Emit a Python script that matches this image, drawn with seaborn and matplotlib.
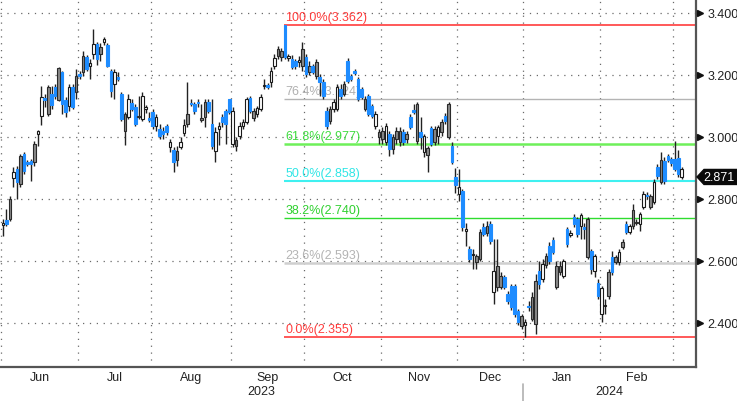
import numpy as np
import pandas as pd
import matplotlib
matplotlib.use("Agg")
import matplotlib.pyplot as plt
import seaborn as sns
from matplotlib.patches import Polygon

# ---------------- data ----------------
holidays = ["2023-12-25", "2023-12-26", "2024-01-01"]
dates = [d for d in pd.bdate_range("2023-06-01", "2024-03-05") if d.strftime("%Y-%m-%d") not in holidays]

opens = [2.715, 2.732, 2.800, 2.868, 2.897, 2.939, 2.945, 2.920, 2.922, 2.977,
         3.010, 3.068, 3.126, 3.161, 3.139, 3.161, 3.223, 3.210, 3.119, 3.100,
         3.161, 3.197, 3.203, 3.261, 3.258, 3.230, 3.268, 3.300, 3.290, 3.306,
         3.297, 3.213, 3.170, 3.194, 3.139, 3.074, 3.065, 3.110, 3.097, 3.068,
         3.058, 3.090, 3.060, 3.081, 3.035, 3.026, 3.020, 3.035, 2.968, 2.958,
         2.955, 2.968, 3.013, 3.074, 3.110, 3.106, 3.113, 3.060, 3.113, 3.113,
         3.042, 3.016, 3.026, 3.048, 3.084, 3.123, 3.084, 2.971, 3.035, 3.035,
         3.048, 3.126, 3.084, 3.074, 3.090, 3.165, 3.168, 3.177, 3.229, 3.284,
         3.277, 3.362, 3.254, 3.252, 3.245, 3.242, 3.284, 3.258, 3.229, 3.229,
         3.242, 3.194, 3.177, 3.084, 3.090, 3.090, 3.090, 3.155, 3.171, 3.245,
         3.197, 3.213, 3.187, 3.155, 3.123, 3.132, 3.100, 3.074, 3.000, 3.019,
         3.035, 2.961, 3.000, 3.019, 3.019, 3.016, 3.010, 3.065, 3.087, 3.106,
         3.016, 3.003, 2.942, 3.029, 3.026, 3.032, 3.016, 3.068, 3.106, 2.971,
         2.870, 2.839, 2.826, 2.697, 2.639, 2.618, 2.616, 2.606, 2.710, 2.713,
         2.719, 2.500, 2.584, 2.552, 2.548, 2.494, 2.519, 2.519, 2.439, 2.423,
         2.403, 2.452, 2.484, 2.535, 2.568, 2.590, 2.587, 2.648, 2.668, 2.584,
         2.584, 2.600, 2.655, 2.690, 2.719, 2.735, 2.748, 2.703, 2.735, 2.632,
         2.616, 2.487, 2.513, 2.455, 2.487, 2.613, 2.613, 2.629, 2.645, 2.719,
         2.713, 2.713, 2.726, 2.752, 2.774, 2.810, 2.810, 2.855, 2.874, 2.926,
         2.922, 2.939, 2.929, 2.929, 2.932, 2.897]
highs = [2.735, 2.768, 2.810, 2.903, 2.906, 2.945, 2.952, 2.925, 2.929, 2.987,
         3.023, 3.165, 3.139, 3.168, 3.165, 3.171, 3.226, 3.213, 3.129, 3.171,
         3.171, 3.219, 3.213, 3.277, 3.264, 3.252, 3.348, 3.306, 3.303, 3.322,
         3.303, 3.219, 3.219, 3.210, 3.145, 3.081, 3.139, 3.123, 3.106, 3.132,
         3.145, 3.103, 3.081, 3.090, 3.074, 3.042, 3.032, 3.042, 2.994, 2.968,
         2.971, 3.000, 3.058, 3.177, 3.123, 3.113, 3.123, 3.106, 3.123, 3.123,
         3.123, 3.032, 3.048, 3.074, 3.090, 3.123, 3.097, 3.000, 3.048, 3.058,
         3.129, 3.132, 3.094, 3.100, 3.139, 3.187, 3.174, 3.226, 3.268, 3.294,
         3.287, 3.362, 3.268, 3.264, 3.252, 3.261, 3.306, 3.268, 3.245, 3.235,
         3.252, 3.203, 3.187, 3.097, 3.100, 3.123, 3.171, 3.171, 3.181, 3.255,
         3.203, 3.219, 3.194, 3.161, 3.132, 3.139, 3.106, 3.084, 3.026, 3.032,
         3.045, 3.019, 3.010, 3.032, 3.032, 3.026, 3.019, 3.074, 3.106, 3.113,
         3.065, 3.010, 2.971, 3.035, 3.035, 3.039, 3.058, 3.077, 3.113, 2.984,
         2.900, 2.897, 2.832, 2.723, 2.648, 2.639, 2.623, 2.703, 2.723, 2.729,
         2.729, 2.671, 2.671, 2.565, 2.555, 2.503, 2.526, 2.526, 2.445, 2.429,
         2.413, 2.471, 2.500, 2.558, 2.600, 2.606, 2.626, 2.661, 2.677, 2.600,
         2.600, 2.606, 2.710, 2.700, 2.752, 2.742, 2.755, 2.723, 2.742, 2.639,
         2.623, 2.542, 2.519, 2.477, 2.574, 2.632, 2.619, 2.639, 2.671, 2.729,
         2.719, 2.784, 2.735, 2.758, 2.826, 2.822, 2.816, 2.865, 2.913, 2.952,
         2.935, 2.945, 2.935, 2.987, 2.958, 2.903]
lows = [2.680, 2.713, 2.730, 2.839, 2.800, 2.839, 2.881, 2.905, 2.858, 2.906,
        2.971, 3.039, 3.097, 3.068, 3.090, 3.123, 3.116, 3.074, 3.065, 3.084,
        3.090, 3.123, 3.187, 3.197, 3.213, 3.187, 3.252, 3.232, 3.245, 3.297,
        3.226, 3.129, 3.123, 3.181, 3.052, 2.974, 3.058, 3.084, 3.035, 3.058,
        3.052, 3.077, 3.048, 3.026, 3.019, 2.994, 2.994, 3.006, 2.952, 2.887,
        2.906, 2.961, 3.003, 3.032, 3.100, 3.074, 3.097, 3.048, 3.032, 3.077,
        2.961, 2.919, 2.974, 3.032, 2.977, 3.074, 2.968, 2.955, 2.994, 3.026,
        3.042, 3.077, 3.052, 3.065, 3.084, 3.155, 3.155, 3.161, 3.219, 3.252,
        3.245, 3.252, 3.245, 3.219, 3.219, 3.226, 3.213, 3.194, 3.200, 3.203,
        3.187, 3.132, 3.123, 3.026, 3.042, 3.081, 3.084, 3.123, 3.132, 3.174,
        3.181, 3.200, 3.116, 3.123, 3.084, 3.068, 3.061, 3.026, 2.977, 2.977,
        2.974, 2.939, 2.945, 2.977, 2.971, 2.974, 2.981, 3.026, 3.074, 2.977,
        2.961, 2.935, 2.887, 2.971, 2.974, 2.977, 3.003, 3.042, 2.994, 2.913,
        2.820, 2.794, 2.697, 2.648, 2.597, 2.574, 2.574, 2.600, 2.680, 2.680,
        2.655, 2.461, 2.503, 2.510, 2.510, 2.461, 2.442, 2.419, 2.394, 2.381,
        2.355, 2.439, 2.406, 2.365, 2.510, 2.532, 2.577, 2.590, 2.623, 2.510,
        2.555, 2.545, 2.645, 2.677, 2.710, 2.677, 2.671, 2.671, 2.606, 2.558,
        2.548, 2.477, 2.403, 2.429, 2.477, 2.555, 2.590, 2.587, 2.639, 2.687,
        2.687, 2.703, 2.716, 2.697, 2.768, 2.800, 2.768, 2.784, 2.865, 2.848,
        2.848, 2.919, 2.906, 2.890, 2.871, 2.865]
closes = [2.722, 2.719, 2.735, 2.887, 2.855, 2.848, 2.890, 2.913, 2.913, 2.919,
          3.020, 3.129, 3.119, 3.074, 3.103, 3.132, 3.119, 3.106, 3.081, 3.161,
          3.097, 3.145, 3.197, 3.210, 3.219, 3.237, 3.300, 3.252, 3.268, 3.316,
          3.229, 3.148, 3.210, 3.187, 3.058, 3.019, 3.123, 3.090, 3.042, 3.063,
          3.132, 3.097, 3.055, 3.035, 3.065, 3.003, 3.010, 3.016, 2.984, 2.919,
          2.925, 2.984, 3.039, 3.042, 3.106, 3.084, 3.110, 3.055, 3.065, 3.084,
          2.971, 2.955, 3.035, 3.065, 3.042, 3.081, 2.977, 2.990, 3.003, 3.048,
          3.123, 3.084, 3.061, 3.094, 3.129, 3.168, 3.161, 3.213, 3.255, 3.261,
          3.258, 3.258, 3.262, 3.226, 3.229, 3.248, 3.229, 3.203, 3.210, 3.210,
          3.197, 3.177, 3.132, 3.035, 3.052, 3.113, 3.161, 3.132, 3.139, 3.181,
          3.187, 3.207, 3.123, 3.129, 3.090, 3.074, 3.068, 3.035, 3.016, 2.994,
          2.984, 3.010, 2.961, 2.994, 2.984, 2.984, 2.994, 3.032, 3.081, 2.987,
          3.000, 2.952, 2.964, 2.977, 2.984, 3.003, 3.048, 3.052, 3.000, 2.919,
          2.845, 2.816, 2.710, 2.703, 2.606, 2.622, 2.597, 2.694, 2.687, 2.690,
          2.665, 2.568, 2.516, 2.516, 2.516, 2.471, 2.452, 2.429, 2.403, 2.390,
          2.394, 2.455, 2.413, 2.397, 2.526, 2.542, 2.616, 2.600, 2.629, 2.516,
          2.565, 2.552, 2.703, 2.684, 2.742, 2.687, 2.713, 2.710, 2.613, 2.574,
          2.568, 2.529, 2.429, 2.458, 2.565, 2.565, 2.597, 2.597, 2.661, 2.694,
          2.694, 2.764, 2.722, 2.719, 2.816, 2.813, 2.774, 2.790, 2.903, 2.855,
          2.858, 2.926, 2.916, 2.897, 2.881, 2.871]
# h = hollow (close above open), b = blue filled, g = grey filled
candle_type = ("hbghbgbbbghhbgbbgbbhbgbgbhhbghbbhbbghbbg"
               "hhbbhbbbhbghhgbbbggbbhhbbbhghhhbghhhbhhgg"
               "bhbbhgbgbgbbbghhbgbbbbbgbbhgghbgggbgbbg"
               "bhgbghgbgbbhbhbhggbgbhggbbbbbghbggbhgbbg"
               "ghbhbbhbgbhbhhgbghgbhgghhbghbgbbbbb")

fib_labels = ["100.0%", "76.4%", "61.8%", "50.0%", "38.2%", "23.6%", "0.0%"]
fib_values = [3.362, 3.124, 2.977, 2.858, 2.740, 2.593, 2.355]
fib_colors = ["#ff3c3c", "#b4b4b4", "#6ef05a", "#3ff0f0", "#2fdc2f", "#cfcfcf", "#ff3c3c"]
fib_text_colors = ["#ff3c3c", "#b0b0b0", "#3fdc3f", "#2fe6e6", "#2fd02f", "#b4b4b4", "#ff3c3c"]
fib_widths = [1.2, 1.0, 1.8, 1.5, 1.0, 1.8, 1.2]

y_major = [2.4, 2.6, 2.8, 3.0, 3.2, 3.4]
y_minor = [2.3, 2.5, 2.7, 2.9, 3.1, 3.3]

# ---------------- figure ----------------
sns.set_theme(style="white")
plt.rcParams["font.family"] = ["Liberation Sans", "DejaVu Sans"]

W, H = 737, 402
fig = plt.figure(figsize=(W / 100, H / 100), dpi=100)
ax = fig.add_axes([0, 1 - 368 / H, 696 / W, 368 / H])

n = len(closes)
dates = dates[:n]
pos = np.arange(n)
ctype = list(candle_type[:n]) + ["h"] * max(0, n - len(candle_type))

ax.set_xlim(-0.86, 199.1)
ax.set_ylim(2.258, 3.445)

# month boundaries from dates
didx = pd.DatetimeIndex(dates)
month_start = [i for i in range(n) if i == 0 or didx[i].month != didx[i - 1].month]
bounds = [i - 0.5 for i in month_start]
month_names = [didx[i].strftime("%b") for i in month_start]
label_bounds = bounds + [n - 0.5]
mid = [(label_bounds[k] + label_bounds[k + 1]) / 2 for k in range(len(bounds))]
ax.set_xticks(bounds)
ax.set_xticklabels([])
ax.set_xticks(mid[:-1], minor=True)
ax.set_xticklabels(month_names[:-1], minor=True)
ax.tick_params(axis="x", which="major", length=5, width=1.2, color="#444", direction="out")
ax.tick_params(axis="x", which="minor", length=0, pad=3, labelsize=9, labelcolor="#222")

# y axis on right
ax.yaxis.tick_right()
ax.set_yticks(y_major)
ax.set_yticklabels([f"{v:.3f}" for v in y_major])
ax.set_yticks(y_minor, minor=True)
ax.tick_params(axis="y", which="major", length=0, pad=8, labelsize=9, labelcolor="#222")
ax.tick_params(axis="y", which="minor", length=3.5, width=1.0, color="#444", direction="out")
ax.plot([1.0 + 3.5 / 696] * len(y_major), y_major, linestyle="none", marker=">",
        markersize=4.5, color="#111", transform=ax.get_yaxis_transform(), clip_on=False, zorder=6)

# grid
dot = (0, (1, 4.5))
for v in y_major:
    ax.axhline(v, color="#6a6a6a", lw=0.9, linestyle=dot, zorder=0)
for b in bounds:
    ax.axvline(b, color="#6a6a6a", lw=0.9, linestyle=dot, zorder=0)

# spines
sns.despine(ax=ax, left=True, top=True, right=False, bottom=False)
for s in ["right", "bottom"]:
    ax.spines[s].set_color("#555")
    ax.spines[s].set_linewidth(1.6)

# fibonacci lines
i_hi = int(np.argmax(highs))
x0 = pos[i_hi] - 0.3
for lab, val, lc, tc, lw in zip(fib_labels, fib_values, fib_colors, fib_text_colors, fib_widths):
    ax.hlines(val, x0, 199.1, color=lc, lw=lw, zorder=1)
    ax.text(x0 + 0.4, val + 2.0 / 310, f"{lab}({val:.3f})", color=tc, fontsize=9,
            ha="left", va="bottom", zorder=1)

# candles
o = np.array(opens); c = np.array(closes); hi = np.array(highs); lo = np.array(lows)
face_map = {"h": "white", "b": "#1e8cff", "g": "#8a8a8a"}
edge_map = {"h": "#1a1a1a", "b": "#1e8cff", "g": "#2a2a2a"}
faces = [face_map[t] for t in ctype]
edges = [edge_map[t] for t in ctype]
ax.vlines(pos, lo, hi, color="#222", lw=1.0, zorder=3)
body_bottom = np.minimum(o, c)
body_h = np.maximum(np.abs(c - o), 0.004)
ax.bar(pos, body_h, bottom=body_bottom, width=0.74, color=faces, edgecolor=edges,
       linewidth=0.8, zorder=4)

# last price tag
last = closes[-1]
tr = ax.get_yaxis_transform()
hh = 7.5 / 310
px = lambda p: 1.0 + p / 696
tag = Polygon([(px(1), last), (px(8), last + hh), (px(41), last + hh),
               (px(41), last - hh), (px(8), last - hh)], closed=True,
              facecolor="#0a0a0a", edgecolor="#0a0a0a", transform=tr, clip_on=False, zorder=7)
ax.add_patch(tag)
ax.text(px(22.5), last, f"{last:.3f}", color="white", fontsize=9, ha="center", va="center",
        transform=tr, clip_on=False, zorder=8)

# year labels and separator
xtr = ax.get_xaxis_transform()
jan = bounds[month_names.index("Jan")]
xl, xr = ax.get_xlim()
ax.text((xl + jan) / 2, -24 / 368, str(didx[0].year), ha="center", va="center",
        fontsize=9, color="#222", transform=xtr, clip_on=False)
ax.text((jan + xr) / 2, -24 / 368, str(didx[-1].year), ha="center", va="center",
        fontsize=9, color="#222", transform=xtr, clip_on=False)
ax.plot([jan, jan], [-17 / 368, -34 / 368], color="#b0b0b0", lw=1.2, transform=xtr, clip_on=False)

fig.savefig("out.png", dpi=100)
